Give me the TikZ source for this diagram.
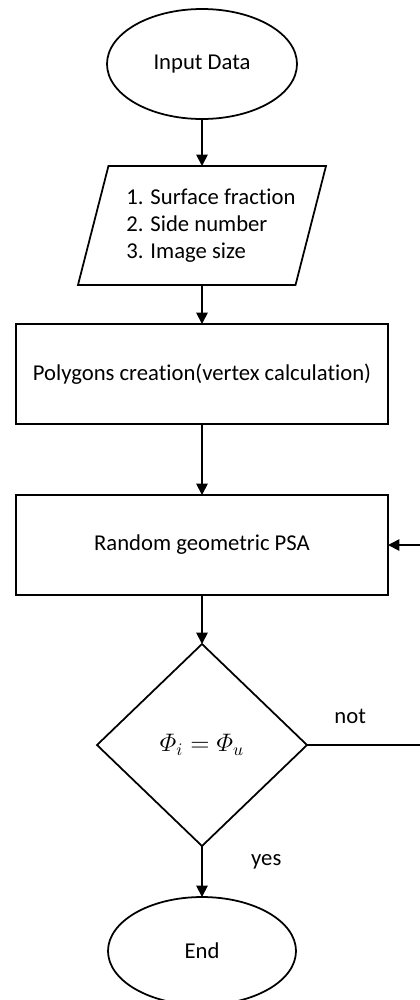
\documentclass[tikz,border=0pt]{standalone}
\usepackage{fontspec}
\setmainfont[Ligatures=NoCommon]{Carlito}
\usepackage{amsmath}
\usetikzlibrary{shapes.geometric,positioning,arrows.meta}

\begin{document}
\begin{tikzpicture}[font=\fontsize{12.9}{15.5}\selectfont]
	\tikzstyle{term}=[ellipse, draw=black, line width=1pt, outer sep=0pt, minimum width=3.8cm, minimum height=2.2cm, inner sep=0pt]
	\tikzstyle{io}=[trapezium, trapezium left angle=67.6, trapezium right angle=112.4, trapezium stretches=true, draw=black, line width=1pt, outer sep=0pt, minimum width=4.92cm, minimum height=2.38cm, align=left, inner sep=0pt]
	\tikzstyle{box}=[rectangle, draw=black, line width=1pt, outer sep=0pt, minimum width=7.44cm, minimum height=2cm]
	\tikzstyle{cond}=[diamond, draw=black, line width=1pt, outer sep=0pt, minimum width=4.2cm, minimum height=4.04cm, inner sep=0pt]
	\tikzstyle{connect}=[-{Triangle[length=6.5pt, width=6.5pt]}, line width=1pt]
	\useasboundingbox (0,0) rectangle (8.4,-20);
	  \node[term] (inp) at (4.04,-1.28) {Input Data};
	  \node[io] (dat) [below=0.94cm of inp] {\hspace*{0.36cm}1. Surface fraction\\\hspace*{0.36cm}2. Side number\\\hspace*{0.36cm}3. Image size};
	  \node[box] (poly) [below=0.78cm of dat] {Polygons creation(vertex calculation)};
	  \node[box] (rnd) [below=1.42cm of poly] {Random geometric PSA};
	  \node[cond, font=\fontsize{14.5}{17}\selectfont] (dec) [below=0.98cm of rnd] {$\varPhi_i = \varPhi_u$};
	  \node[term, minimum width=3.76cm, minimum height=2.16cm] (end) [below=1.02cm of dec] {End};
	  \coordinate[right=2.4cm of dec.east] (back);
	  \path (inp) edge [connect] (dat)
			(dat) edge [connect] (poly)
			(poly) edge [connect] (rnd)
			(rnd) edge [connect] (dec)
			(dec) edge [connect] node[right=0.85cm, pos=0.3] {yes} (end);
	  \draw[connect] (dec.east) -- node[above=0.3cm, pos=0.36] {not} (back) |- (rnd.east);

	\end{tikzpicture}
\end{document}
